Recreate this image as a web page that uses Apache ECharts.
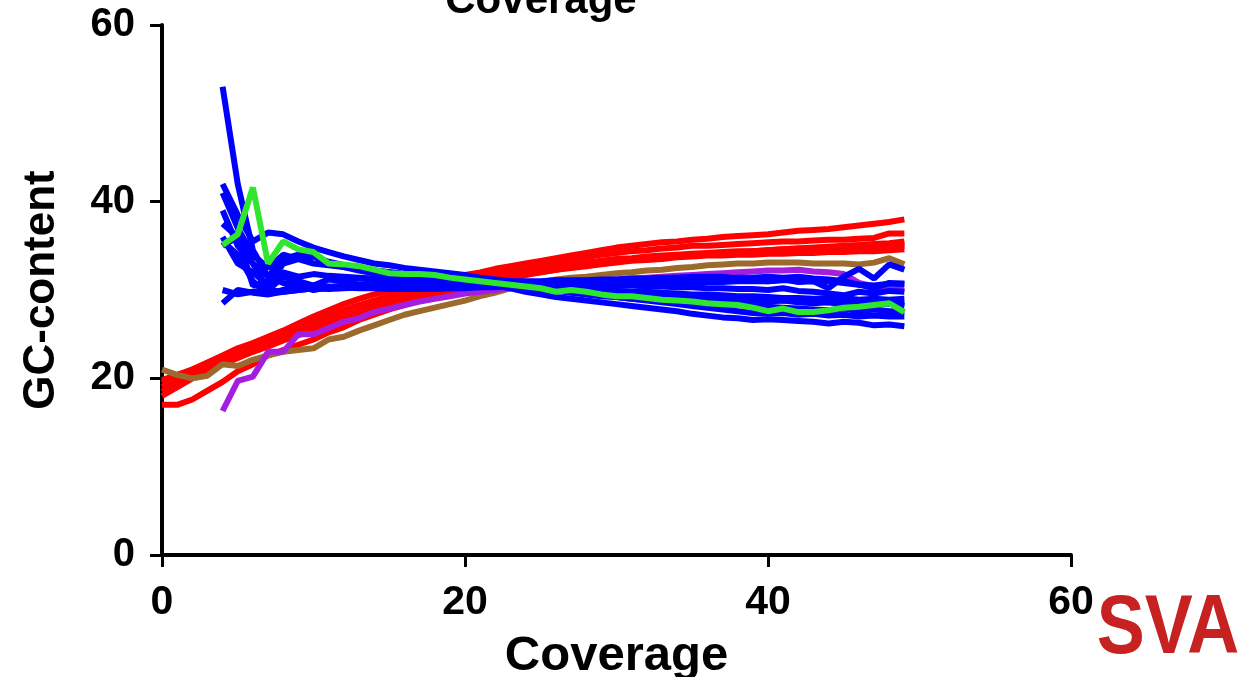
<!DOCTYPE html>
<html>
<head>
<meta charset="utf-8">
<script src="https://cdn.jsdelivr.net/npm/echarts@6/dist/echarts.min.js"></script>
<style>
html,body{margin:0;padding:0;background:#fff;overflow:hidden;}
#chart{width:1251px;height:677px;}
</style>
</head>
<body>
<div id="chart"></div>
<script>
// Tick values
const xTicks = [0, 20, 40, 60];
const yTicks = [0, 20, 40, 60];

// Red series start at coverage 0, the others at coverage 4
const redStart = 0;
const otherStart = 4;

const red1 = [19.5,20.3,21.0,21.8,22.6,23.4,24.0,24.7,25.4,26.2,
  27.0,27.7,28.4,29.0,29.5,29.9,30.3,30.7,31.0,31.3,
  31.7,32.0,32.4,32.7,33.0,33.3,33.6,33.9,34.2,34.5,
  34.8,35.0,35.2,35.4,35.5,35.7,35.8,36.0,36.1,36.2,
  36.3,36.5,36.7,36.8,36.9,37.1,37.3,37.5,37.7,38.0];
const red2 = [19.0,19.9,20.7,21.5,22.3,23.1,23.8,24.5,25.2,25.9,
  26.5,27.1,27.7,28.3,28.8,29.3,29.8,30.2,30.6,31.0,
  31.4,31.7,32.1,32.4,32.7,33.0,33.2,33.5,33.7,34.0,
  34.2,34.4,34.5,34.7,34.8,35.0,35.0,35.1,35.2,35.3,
  35.4,35.5,35.5,35.6,35.7,35.7,35.8,35.9,36.4,36.4];
const red3 = [18.5,19.5,20.4,21.2,22.1,22.9,23.6,24.3,25.0,25.7,
  26.3,26.9,27.5,28.0,28.5,29.0,29.4,29.8,30.2,30.6,
  31.0,31.3,31.6,31.9,32.2,32.4,32.7,32.9,33.1,33.3,
  33.5,33.6,33.8,33.9,34.0,34.1,34.2,34.3,34.4,34.4,
  34.5,34.6,34.7,34.7,34.8,34.9,35.0,35.0,35.1,35.3];
const red4 = [19.8,20.4,21.0,21.7,22.4,23.1,23.7,24.3,24.9,25.5,
  26.1,26.7,27.2,27.7,28.2,28.7,29.1,29.6,30.0,30.4,
  30.8,31.2,31.5,31.8,32.0,32.3,32.5,32.8,33.0,33.2,
  33.4,33.5,33.7,33.8,33.9,34.0,34.1,34.2,34.2,34.3,
  34.4,34.4,34.5,34.5,34.6,34.6,34.7,34.7,34.8,35.0];
const red5 = [18.0,19.0,20.0,20.8,21.6,22.3,23.0,23.6,24.3,24.9,
  25.5,26.1,26.7,27.2,27.8,28.3,28.8,29.3,29.7,30.1,
  30.5,30.9,31.2,31.5,31.8,32.0,32.3,32.5,32.7,32.9,
  33.1,33.3,33.4,33.5,33.7,33.8,33.9,33.9,34.0,34.0,
  34.1,34.1,34.2,34.2,34.3,34.3,34.4,34.4,34.5,34.6];
const red6 = [17.0,17.0,17.6,18.6,19.6,20.8,21.6,22.6,23.2,23.8,
  24.4,25.2,25.8,26.6,27.2,27.8,28.3,28.8,29.3,29.8,
  30.2,30.6,31.0,31.3,31.7,32.0,32.3,32.6,32.8,33.0,
  33.2,33.4,33.5,33.7,33.8,34.0,34.1,34.2,34.3,34.4,
  34.5,34.6,34.7,34.8,34.9,35.0,35.1,35.2,35.3,35.5];

const brown = [21.0,20.4,20.0,20.3,21.6,21.4,22.1,22.6,23.0,23.2,
  23.4,24.4,24.7,25.4,26.0,26.6,27.2,27.6,28.0,28.4,
  28.8,29.3,29.7,30.2,30.6,30.9,31.2,31.4,31.5,31.7,
  31.9,32.0,32.2,32.3,32.5,32.6,32.8,32.9,33.0,33.0,
  33.1,33.1,33.1,33.0,33.0,33.0,32.9,33.1,33.6,32.9];

const purple = [16.3,19.7,20.2,23.0,23.0,25.0,25.0,25.7,26.4,26.8,
  27.5,27.9,28.3,28.7,29.0,29.3,29.6,29.8,30.0,30.2,
  30.2,30.4,30.6,30.8,31.0,31.1,31.2,31.3,31.4,31.5,
  31.6,31.7,31.8,31.9,32.0,32.1,32.2,32.2,32.3,32.1,
  32.0,31.8,30.8,30.4,30.0,30.2];

const green = [35.1,36.3,41.6,33.0,35.5,34.6,34.3,33.0,32.9,32.7,
  32.3,31.9,31.8,31.8,31.7,31.4,31.2,31.0,30.8,30.6,
  30.4,30.2,29.8,30.0,29.8,29.5,29.3,29.3,29.1,28.9,
  28.8,28.7,28.5,28.4,28.3,28.0,27.6,27.9,27.5,27.5,
  27.7,28.0,28.1,28.3,28.5,27.5];

const blue1 = [53.0,42.0,34.5,31.5,30.8,30.5,30.5,30.4,30.3,30.2,
  30.2,30.1,30.1,30.1,30.1,30.2,30.2,30.3,30.3,30.4,
  30.5,30.5,30.6,30.6,30.6,30.7,30.7,30.7,30.8,30.8,
  30.8,30.9,30.9,30.9,31.0,31.0,31.0,31.1,31.1,31.0,
  31.0,30.8,30.6,30.5,30.7,30.7];
const blue2 = [42.0,38.5,35.5,36.5,36.3,35.5,34.8,34.3,33.8,33.4,
  33.0,32.8,32.5,32.3,32.1,31.9,31.7,31.4,31.2,31.0,
  30.7,30.4,30.1,29.8,29.6,29.4,29.2,29.0,28.8,28.6,
  28.4,28.2,28.0,27.8,27.6,27.4,27.3,27.4,27.2,27.3,
  27.1,27.2,27.0,27.1,27.0,27.0];
const blue3 = [41.0,37.0,34.0,32.5,34.0,33.5,33.8,33.2,32.8,32.5,
  32.2,32.0,31.8,31.6,31.4,31.2,31.1,31.0,30.9,30.8,
  30.7,30.6,30.4,30.2,30.0,29.9,29.8,29.6,29.5,29.4,
  29.3,29.2,29.1,29.0,28.9,28.8,28.7,28.8,28.6,28.5,
  28.6,28.4,28.5,28.3,28.5,28.4];
const blue4 = [39.0,35.0,33.0,30.0,31.5,31.0,30.5,31.2,31.0,31.3,
  31.2,31.0,31.1,31.0,30.9,30.9,30.8,30.8,30.8,30.7,
  30.7,30.7,30.6,30.6,30.6,30.5,30.5,30.5,30.4,30.4,
  30.3,30.3,30.2,30.2,30.1,30.1,30.0,30.2,29.9,29.8,
  29.6,29.4,29.8,29.6,29.9,29.8];
const blue5 = [37.5,36.0,30.5,31.0,32.0,31.5,31.8,31.6,31.5,31.4,
  31.3,31.2,31.1,31.0,30.9,30.8,30.7,30.6,30.5,30.4,
  30.3,30.1,29.9,29.7,29.5,29.3,29.2,29.0,28.9,28.8,
  28.7,28.6,28.5,28.4,28.3,28.2,28.1,28.0,27.9,27.8,
  27.7,27.9,27.6,27.8,27.6,27.6];
const blue6 = [36.0,33.0,32.0,30.5,33.0,33.5,33.0,32.8,32.6,32.4,
  32.2,32.0,31.8,31.6,31.4,31.2,31.0,30.8,30.5,30.2,
  29.8,29.5,29.2,29.0,28.8,28.6,28.4,28.2,28.0,27.8,
  27.6,27.3,27.1,26.9,26.8,26.6,26.7,26.6,26.5,26.4,
  26.2,26.4,26.3,26.0,26.1,25.9];
const blue7 = [35.5,34.0,31.0,29.5,30.0,30.5,30.0,30.3,30.5,30.6,
  30.7,30.8,30.8,30.9,30.9,31.0,31.0,31.0,31.0,31.0,
  31.0,31.0,31.1,31.1,31.1,31.2,31.2,31.3,31.3,31.4,
  31.4,31.5,31.5,31.5,31.3,31.1,31.0,31.2,30.9,31.0,
  30.2,31.5,32.4,31.3,32.9,32.3];
const blue8 = [35.0,36.0,33.0,31.5,33.5,34.0,33.8,33.0,32.6,32.2,
  31.9,31.6,31.4,31.2,31.0,30.9,30.8,30.7,30.6,30.5,
  30.5,30.4,30.3,30.2,30.1,30.0,29.9,29.8,29.8,29.7,
  29.6,29.5,29.5,29.4,29.3,29.3,29.2,29.1,29.1,29.0,
  29.0,29.1,28.9,29.0,28.9,29.0];
const blue9 = [30.0,29.5,29.8,30.0,29.8,30.0,30.2,30.2,30.3,30.3,
  30.4,30.4,30.4,30.5,30.5,30.5,30.6,30.6,30.6,30.7,
  30.7,30.7,30.8,30.8,30.9,30.9,31.0,31.0,31.1,31.1,
  31.2,31.2,31.3,31.3,31.4,31.4,31.5,31.4,31.5,31.3,
  31.2,31.0,30.6,30.2,30.8,30.7];
const blue10 = [28.5,30.0,29.7,29.5,29.8,30.0,30.2,30.1,30.2,30.3,
  30.3,30.4,30.4,30.5,30.5,30.5,30.6,30.6,30.6,30.6,
  30.5,30.4,30.3,30.2,30.1,30.0,29.9,29.8,29.7,29.6,
  29.5,29.4,29.3,29.2,29.1,29.0,28.9,28.8,28.8,28.7,
  28.6,28.5,28.6,28.4,28.5,28.2];

const groups = [
  {color: '#ff0000', start: redStart, lines: [red1, red2, red3, red4, red5, red6]},
  {color: '#9b6a2c', start: redStart, lines: [brown]},
  {color: '#a41ee0', start: otherStart, lines: [purple]},
  {color: '#0000ff', start: otherStart, lines: [blue1, blue2, blue3, blue4, blue5, blue6, blue7, blue8, blue9, blue10]},
  {color: '#2ee62e', start: otherStart, lines: [green]}
];

const series = [];
groups.forEach(g => {
  g.lines.forEach(vals => {
    series.push({
      type: 'line',
      data: vals.map((v, i) => [g.start + i, v]),
      showSymbol: false,
      symbol: 'none',
      lineStyle: {color: g.color, width: 6},
      itemStyle: {color: g.color},
      animation: false,
      silent: true,
      z: 2
    });
  });
});

const FONT = '"Liberation Sans", Arial, sans-serif';
const chart = echarts.init(document.getElementById('chart'), null, {renderer: 'canvas'});
chart.setOption({
  backgroundColor: '#ffffff',
  animation: false,
  grid: {left: 162, right: 180, top: 25, bottom: 122, containLabel: false, outerBoundsMode: 'none'},
  xAxis: {
    type: 'value', min: xTicks[0], max: xTicks[xTicks.length - 1], interval: 20,
    name: 'Coverage', nameLocation: 'middle', nameGap: 77,
    nameTextStyle: {fontFamily: FONT, fontWeight: 'bold', fontSize: 49, color: '#000'},
    axisLine: {show: true, lineStyle: {color: '#000', width: 4}},
    axisTick: {show: true, length: 12, lineStyle: {color: '#000', width: 3}},
    axisLabel: {fontFamily: FONT, fontWeight: 'bold', fontSize: 41, color: '#000', margin: 27},
    splitLine: {show: false}
  },
  yAxis: {
    type: 'value', min: yTicks[0], max: yTicks[yTicks.length - 1], interval: 20,
    name: 'GC-content', nameLocation: 'middle', nameGap: 98,
    nameTextStyle: {fontFamily: FONT, fontWeight: 'bold', fontSize: 44, color: '#000'},
    axisLine: {show: true, lineStyle: {color: '#000', width: 4}},
    axisTick: {show: true, length: 12, lineStyle: {color: '#000', width: 3}},
    axisLabel: {fontFamily: FONT, fontWeight: 'bold', fontSize: 40, color: '#000', margin: 27},
    splitLine: {show: false}
  },
  graphic: [
    {type: 'text', x: 541, y: 22, silent: true,
      style: {text: 'Coverage', fontFamily: FONT, fontWeight: 'bold', fontSize: 42, fill: '#000', align: 'center', verticalAlign: 'bottom'}},
    {type: 'text', x: 1168, y: 630, scaleY: 1.15, silent: true,
      style: {text: 'SVA', fontFamily: FONT, fontWeight: 'bold', fontSize: 72, fill: '#c62222', align: 'center', verticalAlign: 'middle'}}
  ],
  series: series
});
</script>
</body>
</html>
